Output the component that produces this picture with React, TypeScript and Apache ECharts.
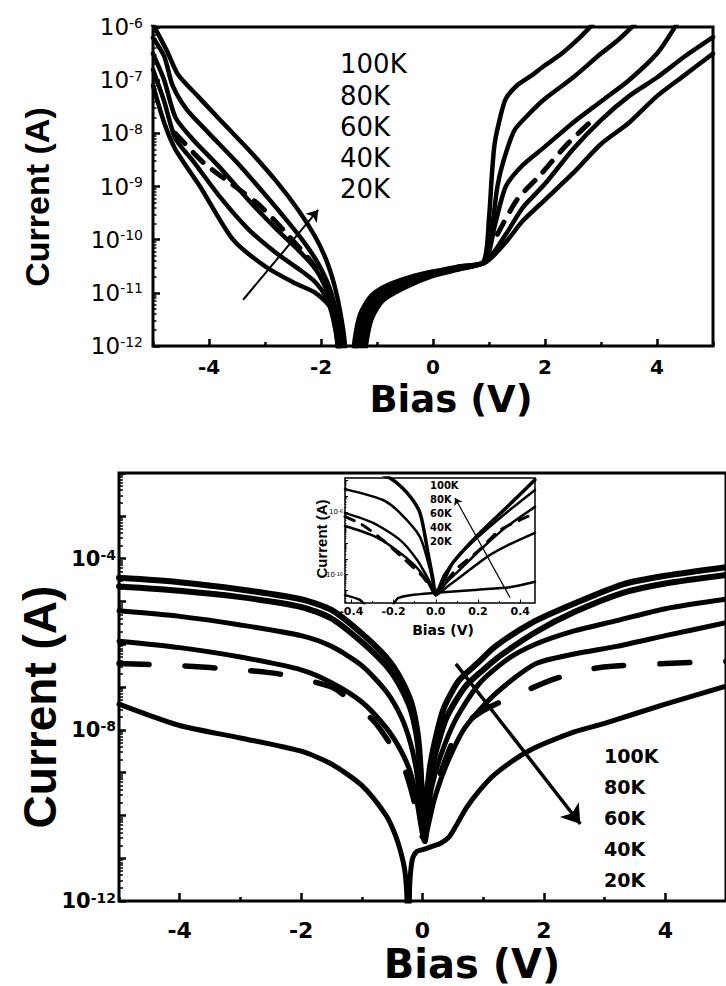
import React, { useEffect, useRef } from 'react';
import * as echarts from 'echarts';

// ---------- DATA: [bias (V), log10(current / A)] ----------
// Upper panel
const topTempLabels = ['100K', '80K', '60K', '40K', '20K'];
const top100K = [[-5,-5.95],[-4.75,-6.45],[-4.55,-6.9],[-4.2,-7.3],[-3.8,-7.75],[-3.3,-8.3],[-2.8,-8.9],[-2.4,-9.45],[-2.1,-9.95],[-1.9,-10.4],[-1.75,-10.9],[-1.65,-11.4],[-1.58,-11.9],[-1.54,-12.6],[-1.46,-12.6],[-1.4,-11.9],[-1.3,-11.4],[-1.1,-11.05],[-0.8,-10.85],[-0.4,-10.7],[0,-10.6],[0.5,-10.5],[0.9,-10.42],[1.0,-9.6],[1.05,-8.8],[1.1,-8.2],[1.2,-7.7],[1.3,-7.35],[1.5,-7.1],[1.75,-6.92],[2.0,-6.72],[2.3,-6.5],[2.6,-6.22],[2.85,-5.95]];
const top80K = [[-5,-6.2],[-4.8,-6.55],[-4.65,-7.1],[-4.4,-7.55],[-4.0,-8.0],[-3.5,-8.55],[-3.0,-9.15],[-2.6,-9.65],[-2.3,-10.05],[-2.05,-10.45],[-1.85,-10.9],[-1.72,-11.4],[-1.65,-11.9],[-1.6,-12.6],[-1.42,-12.6],[-1.36,-11.9],[-1.25,-11.4],[-1.05,-11.05],[-0.8,-10.88],[-0.4,-10.72],[0,-10.62],[0.5,-10.5],[0.92,-10.42],[1.05,-9.8],[1.15,-9.0],[1.25,-8.55],[1.45,-7.95],[1.7,-7.65],[2.0,-7.35],[2.5,-6.95],[3.0,-6.5],[3.3,-6.25],[3.6,-5.95]];
const top60K = [[-5,-6.5],[-4.8,-7.0],[-4.6,-7.7],[-4.3,-8.1],[-3.8,-8.65],[-3.3,-9.25],[-2.8,-9.8],[-2.4,-10.2],[-2.1,-10.55],[-1.9,-10.95],[-1.76,-11.45],[-1.68,-11.95],[-1.64,-12.6],[-1.38,-12.6],[-1.32,-11.95],[-1.2,-11.45],[-1.0,-11.1],[-0.7,-10.9],[-0.3,-10.72],[0,-10.64],[0.5,-10.52],[0.93,-10.42],[1.1,-9.75],[1.3,-9.0],[1.6,-8.6],[2.0,-8.25],[2.5,-7.8],[3.0,-7.4],[3.5,-7.0],[4.0,-6.5],[4.35,-5.95]];
const top40K = [[-5,-6.8],[-4.8,-7.4],[-4.6,-8.1],[-4.3,-8.5],[-3.8,-9.2],[-3.3,-9.8],[-2.8,-10.25],[-2.4,-10.55],[-2.1,-10.8],[-1.9,-11.1],[-1.78,-11.5],[-1.7,-12.0],[-1.66,-12.6],[-1.32,-12.6],[-1.26,-12.0],[-1.15,-11.5],[-0.95,-11.12],[-0.6,-10.9],[-0.2,-10.7],[0.3,-10.58],[0.93,-10.42],[1.3,-9.9],[1.6,-9.4],[2.0,-8.95],[2.5,-8.3],[3.0,-7.75],[3.5,-7.3],[4.0,-6.95],[4.5,-6.55],[5.0,-6.19]];
const top20K = [[-5,-7.1],[-4.8,-7.8],[-4.6,-8.3],[-4.16,-9.0],[-3.57,-10.0],[-3.0,-10.5],[-2.5,-10.8],[-2.1,-11.0],[-1.84,-11.26],[-1.75,-11.6],[-1.7,-12.0],[-1.68,-12.6],[-1.26,-12.6],[-1.2,-12.0],[-1.1,-11.5],[-0.9,-11.15],[-0.5,-10.9],[0,-10.68],[0.5,-10.55],[0.95,-10.42],[1.3,-10.05],[1.6,-9.65],[2.0,-9.25],[2.5,-8.75],[3.0,-8.2],[3.5,-7.8],[4.0,-7.3],[4.5,-6.9],[5.0,-6.5]];
const topDashLeft = [[-4.6,-8.0],[-4.1,-8.55],[-3.6,-8.95],[-3.1,-9.35],[-2.6,-9.9],[-2.15,-10.45],[-1.9,-10.9]];
const topDashRight = [[1.15,-9.9],[1.5,-9.25],[1.9,-8.8],[2.4,-8.2],[2.9,-7.7]];
const topArrow = [[-3.39, -11.13], [-2.05, -9.44]];
const topXTicks = [-4, -2, 0, 2, 4];
const topXMinor = [-5, -3, -1, 1, 3, 5];

// Lower panel
const botTempLabels = ['100K', '80K', '60K', '40K', '20K'];
const bot100K = [[-5,-4.45],[-4,-4.55],[-3,-4.72],[-2,-4.95],[-1.5,-5.2],[-1,-5.75],[-0.6,-6.3],[-0.4,-6.7],[-0.2,-7.3],[-0.1,-7.9],[-0.05,-8.5],[-0.01,-9.5],[0.03,-10.5],[0.07,-9.6],[0.12,-8.9],[0.2,-8.3],[0.35,-7.5],[0.6,-6.85],[0.9,-6.45],[1.2,-6.05],[1.8,-5.5],[2.5,-5.05],[3.3,-4.6],[4.0,-4.4],[5.0,-4.2]];
const bot80K = [[-5,-4.65],[-4,-4.75],[-3,-4.9],[-2,-5.13],[-1.5,-5.4],[-1,-5.95],[-0.6,-6.5],[-0.4,-6.9],[-0.2,-7.5],[-0.1,-8.1],[-0.05,-8.7],[0,-9.7],[0.04,-10.6],[0.08,-9.8],[0.14,-9.05],[0.22,-8.5],[0.4,-7.7],[0.7,-7.0],[1.0,-6.6],[1.3,-6.25],[1.86,-5.72],[2.5,-5.25],[3.3,-4.8],[4,-4.58],[5,-4.38]];
const bot60K = [[-5,-5.22],[-4,-5.35],[-3,-5.55],[-2,-5.8],[-1.5,-6.05],[-1,-6.5],[-0.6,-7.1],[-0.35,-7.7],[-0.2,-8.3],[-0.1,-8.95],[-0.04,-9.7],[0.02,-10.5],[0.08,-10.0],[0.15,-9.35],[0.3,-8.6],[0.55,-7.75],[0.93,-6.93],[1.4,-6.35],[1.86,-6.0],[2.5,-5.69],[3.2,-5.45],[4.0,-5.17],[5,-4.95]];
const bot40K = [[-5,-5.93],[-4,-6.08],[-3,-6.3],[-2,-6.6],[-1.5,-6.9],[-1,-7.35],[-0.6,-7.95],[-0.35,-8.5],[-0.2,-9.0],[-0.1,-9.6],[-0.03,-10.2],[0.03,-10.6],[0.1,-10.2],[0.2,-9.6],[0.4,-8.8],[0.7,-7.95],[1.2,-7.16],[1.86,-6.46],[2.5,-6.23],[3.2,-6.05],[4.0,-5.8],[5,-5.5]];
const bot20K = [[-5,-7.4],[-4,-7.9],[-3,-8.19],[-2,-8.5],[-1.5,-8.8],[-1,-9.3],[-0.6,-10.0],[-0.45,-10.45],[-0.35,-10.9],[-0.29,-11.3],[-0.26,-11.8],[-0.245,-12.4],[-0.225,-12.4],[-0.21,-11.6],[-0.17,-11.05],[-0.1,-10.85],[0.05,-10.78],[0.18,-10.71],[0.3,-10.65],[0.44,-10.5],[0.55,-10.25],[0.72,-9.83],[0.95,-9.4],[1.2,-9.03],[1.74,-8.5],[2.5,-8.05],[3.0,-7.85],[4.0,-7.4],[5.0,-6.98]];
const botDashed = [[-5,-6.45],[-4,-6.5],[-3,-6.6],[-2.35,-6.7],[-1.5,-7.0],[-1.2,-7.3],[-0.8,-7.8],[-0.5,-8.4],[-0.3,-8.9],[-0.15,-9.6],[0,-10.5],[0.1,-10.0],[0.3,-9.0],[0.6,-8.0],[1.0,-7.55],[1.6,-7.15],[2.2,-6.8],[2.9,-6.55],[4.2,-6.44],[5,-6.4]];
const botArrow = [[0.55, -6.46], [2.6, -10.2]];
const botXTicks = [-4, -2, 0, 2, 4];
const botXMinor = [-5, -3, -1, 1, 3, 5];
const botYLabels = [-12, -8, -4];

// Inset
const insetTempLabels = ['100K', '80K', '60K', '40K', '20K'];
const in100K = [[-0.3,-3.4],[-0.217,-3.84],[-0.136,-4.79],[-0.075,-6.06],[-0.037,-8.6],[-0.013,-10.3],[0.0,-11.27],[0.04,-10.3],[0.081,-9.24],[0.21,-7.33],[0.338,-5.68],[0.47,-3.95]];
const in80K = [[-0.43,-4.55],[-0.25,-5.24],[-0.17,-6.06],[-0.075,-7.59],[-0.027,-9.68],[0,-11.14],[0.04,-10.0],[0.1,-8.9],[0.2,-7.6],[0.33,-6.1],[0.47,-4.6]];
const in60K = [[-0.43,-6.06],[-0.297,-6.7],[-0.17,-7.78],[-0.089,-9.05],[-0.027,-10.5],[0,-11.3],[0.05,-10.5],[0.12,-9.6],[0.22,-8.3],[0.33,-7.0],[0.47,-5.68]];
const in40K = [[-0.43,-6.9],[-0.3,-7.5],[-0.2,-8.3],[-0.1,-9.4],[-0.04,-10.4],[0,-11.3],[0.06,-10.7],[0.15,-9.8],[0.25,-8.8],[0.36,-8.0],[0.47,-7.33]];
const in20K = [[-0.43,-11.3],[-0.36,-11.6],[-0.31,-12.2],[-0.22,-12.2],[-0.18,-11.5],[-0.12,-11.3],[0,-11.15],[0.1,-11.05],[0.2,-10.95],[0.35,-10.8],[0.47,-10.45]];
const inDashed = [[-0.43,-6.3],[-0.35,-6.8],[-0.25,-7.8],[-0.15,-9.0],[-0.07,-10.0],[0,-11.0],[0.1,-9.6],[0.2,-8.5],[0.3,-7.2],[0.4,-6.5],[0.47,-6.1]];
const inArrow = [[0.352, -11.46], [0.091, -5.11]];
const inXTicks = [-0.4, -0.2, 0.0, 0.2, 0.4];
const inXMinor = [-0.3, -0.1, 0.1, 0.3];
const inYTicks = [-11, -10, -9, -8, -7, -6, -5, -4];
const inYLabels = [-10, -6];

// ---------- helpers ----------
const SANS = '"DejaVu Sans", sans-serif';
const ARIAL = '"Liberation Sans", Arial, sans-serif';
const BLACK = '#000';

function minorLogTicks(lo: number, hi: number): number[] {
  const out: number[] = [];
  for (let n = Math.floor(lo); n < hi; n++) {
    for (let k = 2; k <= 9; k++) {
      const v = n + Math.log10(k);
      if (v > lo && v < hi) out.push(v);
    }
  }
  return out;
}

function curve(data: number[][], axis: number, width: number, dash?: any, extra?: any) {
  return {
    type: 'line',
    data,
    xAxisIndex: axis,
    yAxisIndex: axis,
    symbol: 'none',
    showSymbol: false,
    smooth: 0.25,
    silent: true,
    clip: true,
    lineStyle: { color: BLACK, width, type: dash || 'solid', cap: 'round', join: 'round' },
    z: 3,
    ...(extra || {}),
  };
}

function arrow(coords: number[][], width: number, size: number) {
  return {
    silent: true,
    animation: false,
    symbol: ['none', 'arrow'],
    symbolSize: size,
    label: { show: false },
    emphasis: { disabled: true },
    lineStyle: { color: BLACK, width, type: 'solid', opacity: 1 },
    data: [[{ coord: coords[0] }, { coord: coords[1] }]],
  };
}

function supRich(base: number, sup: number, weight: string) {
  return {
    b: { fontSize: base, fontFamily: SANS, fontWeight: weight, color: BLACK },
    s: { fontSize: sup, fontFamily: SANS, fontWeight: weight, color: BLACK, verticalAlign: 'top' },
  };
}

function hiddenLine() {
  return { show: false, onZero: false };
}

function buildOption() {
  const xAxis: any[] = [];
  const yAxis: any[] = [];

  // ---- grid 0 : upper panel ----
  xAxis.push({
    gridIndex: 0, type: 'value', min: -5, max: 5, position: 'bottom',
    axisLine: hiddenLine(), splitLine: { show: false },
    axisTick: { show: true, inside: true, length: 7, customValues: topXTicks, lineStyle: { color: BLACK, width: 2.5 } },
    axisLabel: { customValues: topXTicks, margin: 11, color: BLACK, fontFamily: SANS, fontWeight: 'bold', fontSize: 20, formatter: (v: number) => `${v}` },
  });
  xAxis.push({
    gridIndex: 0, type: 'value', min: -5, max: 5, position: 'bottom',
    axisLine: hiddenLine(), splitLine: { show: false }, axisLabel: { show: false },
    axisTick: { show: true, inside: true, length: 4, customValues: topXMinor, lineStyle: { color: BLACK, width: 2.5 } },
  });
  yAxis.push({
    gridIndex: 0, type: 'value', min: -12, max: -6, interval: 1, position: 'left',
    axisLine: hiddenLine(), splitLine: { show: false },
    axisTick: { show: true, inside: true, length: 7, lineStyle: { color: BLACK, width: 2.5 } },
    axisLabel: { margin: 10, formatter: (v: number) => `{b|10}{s|${Math.round(v)}}`, rich: supRich(23, 14, 'normal') },
  });
  yAxis.push({
    gridIndex: 0, type: 'value', min: -12, max: -6, position: 'left',
    axisLine: hiddenLine(), splitLine: { show: false }, axisLabel: { show: false },
    axisTick: { show: true, inside: true, length: 3.5, customValues: minorLogTicks(-12, -6), lineStyle: { color: BLACK, width: 1.5 } },
  });

  // ---- grid 1 : lower panel ----
  xAxis.push({
    gridIndex: 1, type: 'value', min: -5, max: 5, position: 'bottom',
    axisLine: hiddenLine(), splitLine: { show: false },
    axisTick: { show: true, inside: true, length: 8, customValues: botXTicks, lineStyle: { color: BLACK, width: 2.5 } },
    axisLabel: { customValues: botXTicks, margin: 18, color: BLACK, fontFamily: SANS, fontWeight: 'bold', fontSize: 22, formatter: (v: number) => `${v}` },
  });
  xAxis.push({
    gridIndex: 1, type: 'value', min: -5, max: 5, position: 'bottom',
    axisLine: hiddenLine(), splitLine: { show: false }, axisLabel: { show: false },
    axisTick: { show: true, inside: true, length: 4, customValues: botXMinor, lineStyle: { color: BLACK, width: 2.5 } },
  });
  yAxis.push({
    gridIndex: 1, type: 'value', min: -12, max: -2, interval: 1, position: 'left',
    axisLine: hiddenLine(), splitLine: { show: false },
    axisTick: { show: true, inside: true, length: 7, lineStyle: { color: BLACK, width: 2.5 } },
    axisLabel: {
      margin: 3,
      customValues: botYLabels,
      formatter: (v: number) => `{b|10}{s|${Math.round(v)}}`,
      rich: supRich(21, 14, 'bold'),
    },
  });
  yAxis.push({
    gridIndex: 1, type: 'value', min: -12, max: -2, position: 'left',
    axisLine: hiddenLine(), splitLine: { show: false }, axisLabel: { show: false },
    axisTick: { show: true, inside: true, length: 4, customValues: minorLogTicks(-12, -2), lineStyle: { color: BLACK, width: 1.5 } },
  });

  // ---- grid 2 : inset ----
  xAxis.push({
    gridIndex: 2, type: 'value', min: -0.43, max: 0.47, position: 'bottom',
    axisLine: hiddenLine(), splitLine: { show: false },
    axisTick: { show: true, inside: true, length: 3.5, customValues: inXTicks, lineStyle: { color: BLACK, width: 1 } },
    axisLabel: { customValues: inXTicks, margin: 3, color: BLACK, fontFamily: SANS, fontWeight: 'bold', fontSize: 11, formatter: (v: number) => v.toFixed(1) },
  });
  xAxis.push({
    gridIndex: 2, type: 'value', min: -0.43, max: 0.47, position: 'bottom',
    axisLine: hiddenLine(), splitLine: { show: false }, axisLabel: { show: false },
    axisTick: { show: true, inside: true, length: 2, customValues: inXMinor, lineStyle: { color: BLACK, width: 1 } },
  });
  yAxis.push({
    gridIndex: 2, type: 'value', min: -11.8, max: -3.84, position: 'left',
    axisLine: hiddenLine(), splitLine: { show: false },
    axisTick: { show: true, inside: true, length: 3, customValues: inYTicks, lineStyle: { color: BLACK, width: 1 } },
    axisLabel: { customValues: inYLabels, margin: 2, formatter: (v: number) => `{b|10}{s|${Math.round(v)}}`, rich: supRich(7, 5, 'normal') },
  });
  yAxis.push({
    gridIndex: 2, type: 'value', min: -11.8, max: -3.84, position: 'left',
    axisLine: hiddenLine(), splitLine: { show: false }, axisLabel: { show: false },
    axisTick: { show: true, inside: true, length: 1.5, customValues: minorLogTicks(-11.8, -3.84), lineStyle: { color: BLACK, width: 0.8 } },
  });

  const series: any[] = [
    // upper
    curve(top100K, 0, 4.5),
    curve(top80K, 0, 4.5),
    curve(top60K, 0, 4.5),
    curve(top40K, 0, 4.5),
    curve(top20K, 0, 4.5, undefined, { markLine: arrow(topArrow, 2, 11) }),
    curve(topDashLeft, 0, 5, [14, 12]),
    curve(topDashRight, 0, 5, [14, 12]),
    // lower
    curve(bot100K, 2, 6),
    curve(bot80K, 2, 6),
    curve(bot60K, 2, 5),
    curve(bot40K, 2, 5),
    curve(bot20K, 2, 5, undefined, { markLine: arrow(botArrow, 3.5, 18) }),
    curve(botDashed, 2, 5.5, [30, 36]),
    // inset
    curve(in100K, 4, 3.5),
    curve(in80K, 4, 2.5),
    curve(in60K, 4, 2.5),
    curve(in40K, 4, 2.5),
    curve(in20K, 4, 2.5, undefined, { markLine: arrow(inArrow, 1.2, 7) }),
    curve(inDashed, 4, 3, [10, 9]),
  ];

  const legendText = (labels: string[], x: number, ys: number[], font: string) =>
    labels.map((t, i) => ({
      type: 'text', x, y: ys[i], silent: true, z: 50,
      style: { text: t, font, fill: BLACK, align: 'left', verticalAlign: 'middle', textAlign: 'left', textVerticalAlign: 'middle' },
    }));

  const title = (t: string, x: number, y: number, font: string, rotation = 0) => ({
    type: 'text', x, y, rotation, silent: true, z: 50,
    style: { text: t, font, fill: BLACK, align: 'center', verticalAlign: 'middle', textAlign: 'center', textVerticalAlign: 'middle' },
  });

  const graphic: any[] = [
    ...legendText(topTempLabels, 340, [64, 96, 127, 158, 189], `normal 26px ${SANS}`),
    ...legendText(botTempLabels, 604, [756, 787, 818, 849, 880], `bold 19px ${SANS}`),
    ...legendText(insetTempLabels, 430, [485, 499, 513, 527, 541], `bold 10px ${SANS}`),
    title('Current (A)', 37, 197, `bold 34px ${ARIAL}`, Math.PI / 2),
    title('Bias (V)', 451, 399, `bold 37px ${SANS}`),
    title('Current (A)', 40, 707, `bold 46px ${ARIAL}`, Math.PI / 2),
    title('Bias (V)', 472, 964, `bold 40px ${SANS}`),
    title('Current (A)', 321, 539, `bold 15px ${ARIAL}`, Math.PI / 2),
    title('Bias (V)', 443, 630, `bold 14px ${SANS}`),
  ];

  return {
    animation: false,
    backgroundColor: '#fff',
    grid: [
      { left: 153, top: 27, width: 560, height: 319, show: true, borderColor: BLACK, borderWidth: 3, backgroundColor: 'transparent', containLabel: false },
      { left: 119, top: 473, width: 614, height: 428, show: true, borderColor: BLACK, borderWidth: 3, backgroundColor: 'transparent', containLabel: false },
      { left: 345, top: 478, width: 190, height: 125, show: true, borderColor: BLACK, borderWidth: 1.5, backgroundColor: '#fff', containLabel: false },
    ],
    xAxis,
    yAxis,
    series,
    graphic,
  };
}

export default function App() {
  const ref = useRef<HTMLDivElement>(null);
  useEffect(() => {
    if (!ref.current) return;
    const chart = echarts.init(ref.current, null, { renderer: 'svg', width: 726, height: 986 });
    chart.setOption(buildOption() as any);
    return () => chart.dispose();
  }, []);
  return (
    <div
      ref={ref}
      style={{ position: 'absolute', left: 0, top: 0, width: 726, height: 986, background: '#fff' }}
    />
  );
}
